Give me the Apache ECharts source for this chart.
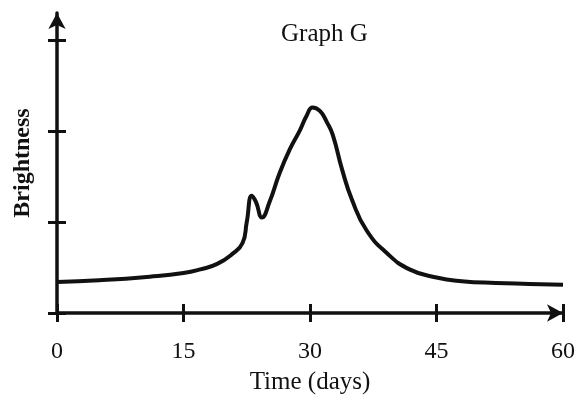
<!DOCTYPE html>
<html>
<head>
<meta charset="utf-8">
<script src="https://cdn.jsdelivr.net/npm/echarts@6/dist/echarts.min.js"></script>
<style>
  html, body { margin: 0; padding: 0; background: #fff; }
  #chart { width: 578px; height: 400px; }
</style>
</head>
<body>
<div id="chart"></div>
<script>
// Light curve: brightness over time
const days = [0, 5, 11, 15, 17, 19, 20.8, 22, 22.5, 23.1, 23.6, 24.3, 25.2, 26.4, 27.6, 28.8, 29.6, 30.3, 31.2, 32.0, 32.7, 33.8, 35.0, 36.7, 39.1, 41.8, 45, 48, 52, 56, 60];
const brightness = [0.34, 0.36, 0.40, 0.44, 0.48, 0.54, 0.65, 0.77, 1.00, 1.29, 1.22, 1.05, 1.22, 1.54, 1.80, 2.01, 2.17, 2.26, 2.22, 2.10, 1.96, 1.58, 1.24, 0.91, 0.66, 0.48, 0.39, 0.35, 0.33, 0.32, 0.31];
const xTicks = [0, 15, 30, 45, 60];
const yTicks = [0, 1, 2, 3];

const ink = '#111';
const serif = '"Liberation Serif", "DejaVu Serif", serif';
const gridBox = { left: 57, right: 15, top: 13, bottom: 87 };

const chart = echarts.init(document.getElementById('chart'), null, { renderer: 'canvas' });
chart.setOption({
  animation: false,
  backgroundColor: '#fff',
  title: {
    text: 'Graph G',
    left: 276, top: 17,
    textStyle: { fontFamily: serif, fontSize: 25, fontWeight: 'normal', color: ink }
  },
  grid: [Object.assign({}, gridBox), Object.assign({}, gridBox)],
  xAxis: [
    {
      gridIndex: 0, type: 'value', min: 0, max: 60,
      axisLine: { show: true, lineStyle: { color: ink, width: 3.5 }, symbol: ['none', 'arrow'], symbolSize: [13, 16] },
      axisTick: { show: true, inside: false, length: 9, lineStyle: { color: ink, width: 3 }, customValues: xTicks },
      axisLabel: { show: true, margin: 27, fontFamily: serif, fontSize: 24, color: ink, customValues: xTicks },
      splitLine: { show: false },
      name: 'Time (days)', nameLocation: 'middle', nameGap: 57,
      nameTextStyle: { fontFamily: serif, fontSize: 25, color: ink }
    },
    {
      gridIndex: 1, type: 'value', min: 0, max: 60,
      axisLine: { show: false },
      axisTick: { show: true, inside: true, length: 9, lineStyle: { color: ink, width: 3 }, customValues: xTicks },
      axisLabel: { show: false },
      splitLine: { show: false }
    }
  ],
  yAxis: [
    {
      gridIndex: 0, type: 'value', min: 0, max: 3.3,
      axisLine: { show: true, lineStyle: { color: ink, width: 3.5 }, symbol: ['none', 'arrow'], symbolSize: [13, 16] },
      axisTick: { show: true, inside: false, length: 9, lineStyle: { color: ink, width: 3 }, customValues: yTicks },
      axisLabel: { show: false },
      splitLine: { show: false },
      name: 'Brightness', nameLocation: 'middle', nameGap: 22,
      nameTextStyle: { fontFamily: serif, fontSize: 24, fontWeight: 'bold', color: ink }
    },
    {
      gridIndex: 1, type: 'value', min: 0, max: 3.3,
      axisLine: { show: false },
      axisTick: { show: true, inside: true, length: 9, lineStyle: { color: ink, width: 3 }, customValues: yTicks },
      axisLabel: { show: false },
      splitLine: { show: false }
    }
  ],
  series: [
    {
      type: 'line',
      xAxisIndex: 0, yAxisIndex: 0,
      data: days.map((d, i) => [d, brightness[i]]),
      smooth: 0.5,
      showSymbol: false,
      lineStyle: { color: ink, width: 4 },
      clip: false
    }
  ]
});
</script>
</body>
</html>
